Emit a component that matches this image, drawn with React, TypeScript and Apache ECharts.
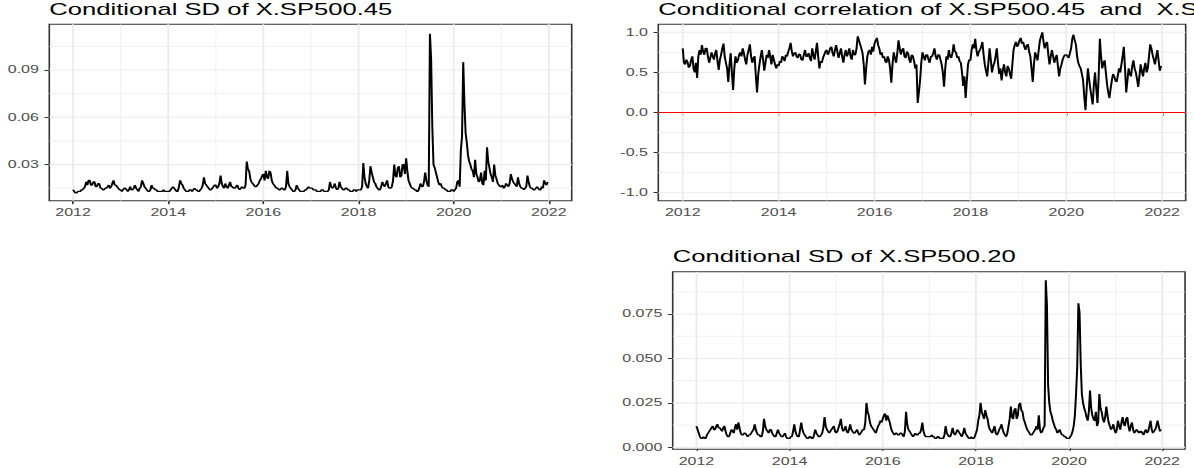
import React, { useEffect, useRef } from "react";
import * as echarts from "echarts";

const START_YEAR = 2012;
const PER_YEAR = 40;

const sd45: number[] = [
  // 2012
  0.014, 0.013, 0.012, 0.012, 0.013, 0.013, 0.013, 0.014, 0.014, 0.015, 0.016, 0.019, 0.017, 0.020, 0.020, 0.017, 0.017, 0.019, 0.019, 0.016,
  0.016, 0.018, 0.018, 0.015, 0.015, 0.014, 0.014, 0.015, 0.015, 0.016, 0.017, 0.015, 0.016, 0.018, 0.020, 0.017, 0.017, 0.016, 0.015, 0.014,
  // 2013
  0.014, 0.013, 0.014, 0.015, 0.015, 0.014, 0.013, 0.014, 0.016, 0.014, 0.014, 0.015, 0.017, 0.015, 0.014, 0.013, 0.015, 0.016, 0.020, 0.018,
  0.016, 0.015, 0.014, 0.013, 0.013, 0.014, 0.017, 0.015, 0.015, 0.014, 0.014, 0.013, 0.013, 0.013, 0.013, 0.013, 0.014, 0.013, 0.013, 0.013,
  // 2014
  0.013, 0.013, 0.014, 0.015, 0.016, 0.015, 0.014, 0.013, 0.013, 0.016, 0.020, 0.018, 0.017, 0.015, 0.014, 0.013, 0.013, 0.013, 0.014, 0.014,
  0.013, 0.014, 0.015, 0.014, 0.014, 0.013, 0.013, 0.014, 0.015, 0.017, 0.022, 0.018, 0.017, 0.016, 0.015, 0.014, 0.014, 0.015, 0.016, 0.017,
  // 2015
  0.017, 0.015, 0.016, 0.018, 0.023, 0.018, 0.016, 0.015, 0.018, 0.016, 0.015, 0.017, 0.019, 0.016, 0.016, 0.015, 0.015, 0.016, 0.017, 0.015,
  0.014, 0.015, 0.016, 0.015, 0.015, 0.017, 0.032, 0.027, 0.026, 0.021, 0.019, 0.018, 0.017, 0.016, 0.016, 0.017, 0.018, 0.020, 0.021, 0.023,
  // 2016
  0.024, 0.020, 0.026, 0.022, 0.021, 0.026, 0.025, 0.020, 0.018, 0.017, 0.016, 0.015, 0.015, 0.014, 0.014, 0.015, 0.015, 0.014, 0.014, 0.016,
  0.026, 0.018, 0.016, 0.015, 0.014, 0.013, 0.013, 0.014, 0.017, 0.015, 0.014, 0.013, 0.013, 0.013, 0.013, 0.014, 0.014, 0.015, 0.016, 0.015,
  // 2017
  0.015, 0.015, 0.014, 0.014, 0.014, 0.013, 0.013, 0.013, 0.013, 0.014, 0.014, 0.013, 0.013, 0.013, 0.013, 0.014, 0.019, 0.016, 0.015, 0.016,
  0.018, 0.015, 0.014, 0.015, 0.019, 0.016, 0.015, 0.014, 0.014, 0.015, 0.015, 0.014, 0.014, 0.013, 0.013, 0.013, 0.014, 0.014, 0.013, 0.014,
  // 2018
  0.014, 0.014, 0.014, 0.016, 0.031, 0.022, 0.018, 0.016, 0.015, 0.020, 0.029, 0.025, 0.022, 0.019, 0.018, 0.016, 0.015, 0.014, 0.014, 0.016,
  0.019, 0.017, 0.016, 0.018, 0.020, 0.016, 0.015, 0.015, 0.016, 0.020, 0.030, 0.023, 0.022, 0.028, 0.029, 0.022, 0.023, 0.030, 0.030, 0.024,
  // 2019
  0.034, 0.026, 0.020, 0.018, 0.016, 0.015, 0.015, 0.014, 0.014, 0.013, 0.013, 0.015, 0.018, 0.016, 0.016, 0.019, 0.025, 0.020, 0.017, 0.016,
  0.113, 0.097, 0.054, 0.030, 0.028, 0.025, 0.022, 0.019, 0.017, 0.018, 0.016, 0.015, 0.015, 0.014, 0.014, 0.013, 0.013, 0.013, 0.014, 0.014,
  // 2020
  0.013, 0.014, 0.015, 0.019, 0.020, 0.016, 0.039, 0.048, 0.095, 0.069, 0.050, 0.044, 0.036, 0.032, 0.030, 0.027, 0.026, 0.022, 0.033, 0.024,
  0.022, 0.019, 0.020, 0.025, 0.018, 0.017, 0.026, 0.020, 0.041, 0.032, 0.028, 0.024, 0.022, 0.019, 0.030, 0.023, 0.021, 0.018, 0.017, 0.016,
  // 2021
  0.016, 0.017, 0.015, 0.016, 0.018, 0.017, 0.016, 0.018, 0.024, 0.021, 0.019, 0.018, 0.017, 0.016, 0.022, 0.018, 0.016, 0.015, 0.015, 0.014,
  0.015, 0.016, 0.023, 0.019, 0.016, 0.015, 0.015, 0.014, 0.014, 0.015, 0.016, 0.015, 0.014, 0.014, 0.016, 0.015, 0.020, 0.018, 0.017, 0.019,
];

const corr: number[] = [
  // 2012
  0.80, 0.62, 0.60, 0.66, 0.63, 0.56, 0.58, 0.66, 0.70, 0.55, 0.50, 0.62, 0.43, 0.70, 0.78, 0.72, 0.84, 0.76, 0.72, 0.80,
  0.80, 0.70, 0.62, 0.68, 0.75, 0.70, 0.66, 0.74, 0.78, 0.64, 0.53, 0.66, 0.72, 0.80, 0.86, 0.70, 0.62, 0.55, 0.38, 0.60,
  // 2013
  0.74, 0.50, 0.28, 0.55, 0.70, 0.62, 0.65, 0.72, 0.75, 0.70, 0.80, 0.74, 0.66, 0.60, 0.72, 0.78, 0.85, 0.70, 0.62, 0.68,
  0.70, 0.45, 0.25, 0.48, 0.60, 0.70, 0.78, 0.66, 0.52, 0.62, 0.72, 0.68, 0.78, 0.70, 0.60, 0.72, 0.66, 0.60, 0.55, 0.60,
  // 2014
  0.58, 0.64, 0.62, 0.70, 0.68, 0.64, 0.72, 0.70, 0.76, 0.80, 0.87, 0.76, 0.70, 0.74, 0.75, 0.70, 0.68, 0.73, 0.72, 0.66,
  0.65, 0.72, 0.78, 0.70, 0.70, 0.74, 0.68, 0.64, 0.80, 0.72, 0.66, 0.76, 0.87, 0.70, 0.55, 0.64, 0.62, 0.68, 0.72, 0.76,
  // 2015
  0.78, 0.72, 0.75, 0.80, 0.82, 0.74, 0.70, 0.78, 0.84, 0.76, 0.68, 0.74, 0.80, 0.70, 0.62, 0.72, 0.78, 0.70, 0.74, 0.80,
  0.70, 0.66, 0.78, 0.72, 0.72, 0.80, 0.95, 0.90, 0.85, 0.80, 0.74, 0.60, 0.35, 0.55, 0.70, 0.76, 0.78, 0.72, 0.82, 0.76,
  // 2016
  0.86, 0.90, 0.93, 0.84, 0.80, 0.72, 0.75, 0.68, 0.70, 0.64, 0.62, 0.70, 0.66, 0.55, 0.37, 0.60, 0.75, 0.68, 0.62, 0.74,
  0.90, 0.80, 0.72, 0.78, 0.80, 0.70, 0.68, 0.76, 0.74, 0.66, 0.62, 0.72, 0.70, 0.64, 0.55, 0.60, 0.12, 0.25, 0.40, 0.62,
  // 2017
  0.75, 0.70, 0.65, 0.72, 0.72, 0.66, 0.62, 0.70, 0.70, 0.74, 0.80, 0.70, 0.66, 0.72, 0.72, 0.66, 0.60, 0.50, 0.32, 0.55,
  0.70, 0.66, 0.78, 0.70, 0.68, 0.74, 0.85, 0.76, 0.75, 0.68, 0.70, 0.64, 0.62, 0.50, 0.33, 0.45, 0.18, 0.40, 0.60, 0.66,
  // 2018
  0.65, 0.78, 0.85, 0.80, 0.92, 0.78, 0.70, 0.76, 0.78, 0.82, 0.88, 0.72, 0.60, 0.52, 0.45, 0.62, 0.80, 0.66, 0.50, 0.58,
  0.62, 0.70, 0.80, 0.62, 0.48, 0.55, 0.40, 0.52, 0.60, 0.50, 0.45, 0.58, 0.55, 0.48, 0.42, 0.60, 0.78, 0.84, 0.88, 0.82,
  // 2019
  0.85, 0.90, 0.93, 0.86, 0.88, 0.82, 0.78, 0.84, 0.85, 0.76, 0.70, 0.55, 0.38, 0.60, 0.75, 0.70, 0.65, 0.78, 0.90, 0.95,
  1.00, 0.88, 0.80, 0.86, 0.88, 0.72, 0.60, 0.70, 0.78, 0.70, 0.62, 0.68, 0.72, 0.58, 0.45, 0.55, 0.60, 0.66, 0.70, 0.72,
  // 2020
  0.72, 0.70, 0.68, 0.74, 0.80, 0.92, 0.97, 0.90, 0.85, 0.70, 0.62, 0.58, 0.55, 0.48, 0.40, 0.20, 0.03, 0.30, 0.55, 0.42,
  0.30, 0.20, 0.10, 0.35, 0.50, 0.30, 0.12, 0.45, 0.92, 0.70, 0.55, 0.62, 0.65, 0.50, 0.35, 0.25, 0.18, 0.30, 0.40, 0.48,
  // 2021
  0.45, 0.40, 0.38, 0.46, 0.55, 0.50, 0.60, 0.70, 0.82, 0.55, 0.25, 0.40, 0.55, 0.48, 0.45, 0.58, 0.65, 0.55, 0.50, 0.42,
  0.32, 0.45, 0.60, 0.52, 0.45, 0.55, 0.62, 0.50, 0.55, 0.70, 0.85, 0.80, 0.72, 0.66, 0.60, 0.70, 0.78, 0.65, 0.52, 0.58,
];

const sd20: number[] = [
  // 2012
  0.012, 0.010, 0.008, 0.006, 0.005, 0.005, 0.006, 0.005, 0.005, 0.007, 0.008, 0.009, 0.010, 0.011, 0.012, 0.010, 0.010, 0.012, 0.013, 0.011,
  0.011, 0.010, 0.009, 0.011, 0.012, 0.009, 0.007, 0.006, 0.006, 0.008, 0.010, 0.009, 0.008, 0.011, 0.013, 0.010, 0.014, 0.011, 0.008, 0.007,
  // 2013
  0.007, 0.008, 0.008, 0.007, 0.006, 0.007, 0.007, 0.008, 0.009, 0.010, 0.013, 0.010, 0.008, 0.007, 0.007, 0.006, 0.006, 0.009, 0.016, 0.012,
  0.010, 0.009, 0.008, 0.010, 0.010, 0.008, 0.007, 0.006, 0.006, 0.008, 0.010, 0.008, 0.007, 0.006, 0.006, 0.007, 0.008, 0.006, 0.005, 0.005,
  // 2014
  0.005, 0.006, 0.006, 0.009, 0.013, 0.009, 0.007, 0.006, 0.006, 0.010, 0.014, 0.010, 0.008, 0.007, 0.006, 0.005, 0.005, 0.006, 0.006, 0.005,
  0.005, 0.007, 0.010, 0.008, 0.007, 0.006, 0.006, 0.007, 0.008, 0.011, 0.017, 0.012, 0.010, 0.009, 0.008, 0.009, 0.010, 0.011, 0.012, 0.009,
  // 2015
  0.008, 0.009, 0.011, 0.013, 0.016, 0.011, 0.009, 0.010, 0.012, 0.009, 0.008, 0.010, 0.013, 0.010, 0.009, 0.008, 0.008, 0.009, 0.010, 0.008,
  0.007, 0.008, 0.009, 0.010, 0.010, 0.014, 0.025, 0.020, 0.018, 0.014, 0.012, 0.011, 0.010, 0.009, 0.008, 0.010, 0.012, 0.013, 0.015, 0.014,
  // 2016
  0.016, 0.018, 0.019, 0.015, 0.018, 0.016, 0.014, 0.011, 0.009, 0.008, 0.007, 0.008, 0.008, 0.007, 0.007, 0.008, 0.008, 0.007, 0.006, 0.009,
  0.020, 0.013, 0.010, 0.009, 0.008, 0.007, 0.006, 0.007, 0.008, 0.007, 0.007, 0.008, 0.008, 0.010, 0.014, 0.009, 0.007, 0.006, 0.006, 0.006,
  // 2017
  0.006, 0.006, 0.007, 0.006, 0.006, 0.005, 0.005, 0.006, 0.006, 0.005, 0.005, 0.005, 0.005, 0.007, 0.012, 0.008, 0.007, 0.006, 0.006, 0.008,
  0.011, 0.008, 0.007, 0.008, 0.010, 0.009, 0.008, 0.007, 0.006, 0.008, 0.011, 0.008, 0.007, 0.006, 0.005, 0.005, 0.006, 0.005, 0.005, 0.006,
  // 2018
  0.008, 0.010, 0.015, 0.018, 0.025, 0.020, 0.018, 0.016, 0.021, 0.018, 0.016, 0.012, 0.010, 0.009, 0.008, 0.010, 0.012, 0.008, 0.007, 0.008,
  0.010, 0.011, 0.013, 0.010, 0.008, 0.007, 0.006, 0.008, 0.012, 0.016, 0.023, 0.017, 0.016, 0.021, 0.022, 0.016, 0.018, 0.024, 0.025, 0.021,
  // 2019
  0.020, 0.016, 0.014, 0.012, 0.010, 0.009, 0.008, 0.007, 0.007, 0.008, 0.009, 0.010, 0.012, 0.010, 0.018, 0.010, 0.008, 0.009, 0.011, 0.012,
  0.094, 0.080, 0.035, 0.025, 0.020, 0.018, 0.015, 0.013, 0.011, 0.010, 0.008, 0.009, 0.010, 0.008, 0.007, 0.007, 0.006, 0.006, 0.005, 0.005,
  // 2020
  0.005, 0.006, 0.007, 0.009, 0.012, 0.018, 0.030, 0.045, 0.081, 0.076, 0.047, 0.030, 0.025, 0.022, 0.020, 0.017, 0.015, 0.020, 0.032, 0.022,
  0.018, 0.016, 0.015, 0.020, 0.012, 0.014, 0.030, 0.022, 0.020, 0.016, 0.014, 0.017, 0.023, 0.018, 0.014, 0.012, 0.010, 0.011, 0.013, 0.010,
  // 2021
  0.008, 0.010, 0.015, 0.012, 0.010, 0.014, 0.017, 0.013, 0.012, 0.016, 0.017, 0.012, 0.009, 0.012, 0.014, 0.010, 0.008, 0.009, 0.010, 0.009,
  0.008, 0.009, 0.009, 0.008, 0.007, 0.009, 0.010, 0.008, 0.009, 0.012, 0.015, 0.010, 0.008, 0.009, 0.010, 0.012, 0.015, 0.012, 0.009, 0.010,
];

const yearTicks = [2012, 2014, 2016, 2018, 2020, 2022];
const yearMinor = [2013, 2015, 2017, 2019, 2021];
const sd45Ticks = [0.03, 0.06, 0.09];
const sd45Minor = [0.015, 0.045, 0.075, 0.105];
const corrTicks = [-1, -0.5, 0, 0.5, 1];
const corrMinor = [-0.75, -0.25, 0.25, 0.75];
const sd20Ticks = [0, 0.025, 0.05, 0.075];
const sd20Minor = [0.0125, 0.0375, 0.0625, 0.0875];
const corrRefLine = 0;

const titles = [
  "Conditional SD of X.SP500.45",
  "Conditional correlation of X.SP500.45  and  X.SP500.20",
  "Conditional SD of X.SP500.20",
];

// ---- layout (chart drawn narrow, then stretched horizontally like the reference) ----
const W = 746;
const H = 468;
const SCALE = 1194 / W;
const FONT = "'Liberation Sans', Arial, Helvetica, sans-serif";

type Panel = {
  left: number; top: number; width: number; height: number;
  xr: [number, number]; yr: [number, number];
  yTicks: number[]; yMinor: number[]; digits: number; values: number[];
};

const panels: Panel[] = [
  { left: 30.8, top: 24.3, width: 326.4, height: 176.4, xr: [2011.5, 2022.48], yr: [0.0071, 0.119], yTicks: sd45Ticks, yMinor: sd45Minor, digits: 2, values: sd45 },
  { left: 411.3, top: 24.3, width: 329.5, height: 176.4, xr: [2011.49, 2022.49], yr: [-1.1, 1.1], yTicks: corrTicks, yMinor: corrMinor, digits: 1, values: corr },
  { left: 420.3, top: 271.7, width: 320.1, height: 177.6, xr: [2011.49, 2022.49], yr: [-0.0011, 0.0988], yTicks: sd20Ticks, yMinor: sd20Minor, digits: 3, values: sd20 },
];
const titleTops = [1.5, 1.5, 249.2];

function gridLineSeries(gi: number, p: Panel) {
  const out: any[] = [];
  const base = {
    type: "line", xAxisIndex: gi, yAxisIndex: gi, silent: true, symbol: "none",
    showSymbol: false, z: 1, clip: true, animation: false,
  };
  const add = (data: number[][], width: number) =>
    out.push({ ...base, data, lineStyle: { color: "#EBEBEB", width } });
  yearMinor.forEach((x) => add([[x, p.yr[0]], [x, p.yr[1]]], 0.55));
  p.yMinor.forEach((y) => add([[p.xr[0], y], [p.xr[1], y]], 0.55));
  yearTicks.forEach((x) => add([[x, p.yr[0]], [x, p.yr[1]]], 1.1));
  p.yTicks.forEach((y) => add([[p.xr[0], y], [p.xr[1], y]], 1.1));
  return out;
}

function buildOption() {
  const labelStyle = { color: "#4D4D4D", fontSize: 10, fontFamily: FONT };
  const tickStyle = { color: "#333333", width: 1 };
  const series: any[] = [];
  panels.forEach((p, gi) => series.push(...gridLineSeries(gi, p)));
  panels.forEach((p, gi) => {
    series.push({
      type: "line", xAxisIndex: gi, yAxisIndex: gi, symbol: "none", showSymbol: false,
      z: 3, clip: true, silent: true,
      data: p.values.map((v, i) => [START_YEAR + i / PER_YEAR, v]),
      lineStyle: { color: "#000000", width: 1.25 },
    });
  });
  const cp = panels[1];
  series.push({
    type: "line", xAxisIndex: 1, yAxisIndex: 1, symbol: "none", showSymbol: false,
    z: 4, silent: true,
    data: [[cp.xr[0], corrRefLine], [cp.xr[1], corrRefLine]],
    lineStyle: { color: "#FF0000", width: 1 },
  });

  return {
    animation: false,
    backgroundColor: "#FFFFFF",
    title: titles.map((t, i) => ({
      text: t,
      left: panels[i].left,
      top: titleTops[i],
      padding: 0,
      textStyle: { fontSize: 16, fontWeight: "normal", color: "#000000", fontFamily: FONT },
    })),
    grid: panels.map((p) => ({
      left: p.left, top: p.top, width: p.width, height: p.height,
      show: true, borderColor: "#333333", borderWidth: 1, backgroundColor: "transparent",
      containLabel: false, outerBoundsMode: "none",
    })),
    xAxis: panels.map((p, gi) => ({
      type: "value", gridIndex: gi, min: p.xr[0], max: p.xr[1],
      axisLine: { show: false },
      splitLine: { show: false },
      minorSplitLine: { show: false },
      axisTick: { show: true, length: 3.5, lineStyle: tickStyle, customValues: yearTicks },
      axisLabel: { ...labelStyle, margin: 7, customValues: yearTicks, formatter: (v: number) => String(Math.round(v)) },
    })),
    yAxis: panels.map((p, gi) => ({
      type: "value", gridIndex: gi, min: p.yr[0], max: p.yr[1],
      axisLine: { show: false },
      splitLine: { show: false },
      minorSplitLine: { show: false },
      axisTick: { show: true, length: 3, lineStyle: tickStyle, customValues: p.yTicks },
      axisLabel: { ...labelStyle, margin: 6.5, customValues: p.yTicks, formatter: (v: number) => v.toFixed(p.digits) },
    })),
    series,
  };
}

export default function App() {
  const ref = useRef<HTMLDivElement>(null);
  useEffect(() => {
    if (!ref.current) return;
    const chart = echarts.init(ref.current, undefined, { renderer: "svg", width: W, height: H });
    chart.setOption(buildOption() as any);
    return () => chart.dispose();
  }, []);
  return (
    <div
      ref={ref}
      style={{
        position: "fixed", left: 0, top: 0, width: W, height: H,
        transform: `scaleX(${SCALE})`, transformOrigin: "0 0", background: "#FFFFFF",
      }}
    />
  );
}
